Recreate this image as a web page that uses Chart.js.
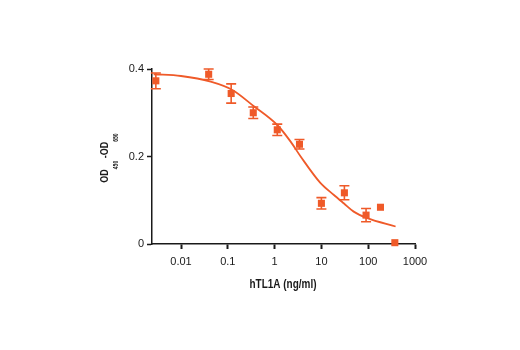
<!DOCTYPE html>
<html>
<head>
<meta charset="utf-8">
<script src="https://cdn.jsdelivr.net/npm/chart.js@4"></script>
<style>
  html, body { margin: 0; padding: 0; background: #fff; }
  #wrap { width: 520px; height: 350px; }
</style>
</head>
<body>
<div id="wrap"><canvas id="chart" width="520" height="350"></canvas></div>
<script>
// ------------------ DADOS ------------------
const doseValues = [0.0029, 0.039, 0.118, 0.35, 1.14, 3.4, 10, 31, 90, 183, 371];
const odValues   = [0.373, 0.388, 0.344, 0.300, 0.261, 0.228, 0.093, 0.117, 0.066, 0.084, 0.003];
const odErrors   = [0.018, 0.012, 0.022, 0.013, 0.013, 0.011, 0.013, 0.016, 0.015, 0, 0];

// fitted curve
const fitDose = [0.0026, 0.01, 0.043, 0.125, 0.36, 1.14, 2.2, 3.6, 9.6, 18.5, 30, 49, 96, 385];
const fitOd   = [0.388, 0.384, 0.371, 0.352, 0.315, 0.272, 0.234, 0.200, 0.139, 0.112, 0.093, 0.074, 0.059, 0.040];

const xTicks = [0.01, 0.1, 1, 10, 100, 1000];
const yTicks = [0, 0.2, 0.4];

const ORANGE = "#ef5a29";
const AXIS = "#1a1a1a";
const SANS = "'Liberation Sans', Arial, sans-serif";

// ------------------ PLUGIN: BARRAS DE ERRO ------------------
const errorBars = {
  id: "errorBars",
  afterDatasetsDraw(chart) {
    const { ctx, scales } = chart;
    const xs = scales.x, ys = scales.y;
    ctx.save();
    ctx.strokeStyle = ORANGE;
    ctx.lineWidth = 1.6;
    doseValues.forEach((d, i) => {
      const e = odErrors[i];
      if (!e) return;
      const px = xs.getPixelForValue(d);
      const top = ys.getPixelForValue(odValues[i] + e);
      const bot = ys.getPixelForValue(odValues[i] - e);
      ctx.beginPath();
      ctx.moveTo(px, top); ctx.lineTo(px, bot);
      ctx.moveTo(px - 5, top); ctx.lineTo(px + 5, top);
      ctx.moveTo(px - 5, bot); ctx.lineTo(px + 5, bot);
      ctx.stroke();
    });
    ctx.restore();
  }
};

// ------------------ PLUGIN: TÍTULOS DOS EIXOS (fonte condensada) ------------------
const axisTitles = {
  id: "axisTitles",
  afterDraw(chart) {
    const { ctx } = chart;
    ctx.save();
    ctx.fillStyle = AXIS;
    ctx.translate(283, 285);
    ctx.scale(0.83, 1);
    ctx.font = "bold 12px " + SANS;
    ctx.textAlign = "center";
    ctx.textBaseline = "middle";
    ctx.fillText("hTL1A (ng/ml)", 0, 0);
    ctx.restore();

    // y title with subscripts, rotated
    const parts = [["OD", false], ["450", true], [" -OD", false], ["650", true]];
    const big = "bold 11.5px " + SANS;
    const small = "bold 6.5px " + SANS;
    ctx.save();
    ctx.fillStyle = AXIS;
    let total = 0;
    parts.forEach(([t, sub]) => { ctx.font = sub ? small : big; total += ctx.measureText(t).width; });
    ctx.translate(108, 158);
    ctx.rotate(-Math.PI / 2);
    ctx.scale(0.78, 1);
    ctx.textAlign = "left";
    ctx.textBaseline = "alphabetic";
    let x = -total / 2;
    parts.forEach(([t, sub]) => {
      ctx.font = sub ? small : big;
      ctx.fillText(t, x, sub ? 10 : 0);
      x += ctx.measureText(t).width;
    });
    ctx.restore();
  }
};

new Chart(document.getElementById("chart"), {
  type: "scatter",
  data: {
    datasets: [
      {
        label: "fit",
        data: fitDose.map((d, i) => ({ x: d, y: fitOd[i] })),
        showLine: true,
        borderColor: ORANGE,
        borderWidth: 1.8,
        pointRadius: 0,
        cubicInterpolationMode: "monotone",
        fill: false
      },
      {
        label: "hTL1A",
        data: doseValues.map((d, i) => ({ x: d, y: odValues[i] })),
        pointStyle: "rect",
        pointRadius: 5,
        backgroundColor: ORANGE,
        borderColor: ORANGE,
        borderWidth: 0
      }
    ]
  },
  options: {
    responsive: false,
    animation: false,
    clip: false,
    layout: { padding: { left: 0, top: 69, right: 105, bottom: 0 } },
    plugins: { legend: { display: false }, tooltip: { enabled: false } },
    scales: {
      x: {
        type: "logarithmic",
        min: 0.0024,
        max: 1000,
        afterBuildTicks: s => { s.ticks = xTicks.map(v => ({ value: v })); },
        afterFit: s => { s.height = 106; },
        border: { color: AXIS, width: 1.5 },
        grid: { drawOnChartArea: false, tickLength: 5, tickWidth: 2, tickColor: AXIS },
        ticks: {
          color: AXIS,
          padding: 6,
          maxRotation: 0,
          autoSkip: false,
          font: { family: SANS, size: 11 },
          callback: v => String(v)
        }
      },
      y: {
        min: 0,
        max: 0.4,
        afterBuildTicks: s => { s.ticks = yTicks.map(v => ({ value: v })); },
        afterFit: s => { s.width = 152; },
        border: { color: AXIS, width: 1.5 },
        grid: { drawOnChartArea: false, tickLength: 5, tickWidth: 1.5, tickColor: AXIS },
        ticks: {
          color: AXIS,
          padding: 3,
          font: { family: SANS, size: 11 },
          callback: v => String(v)
        }
      }
    }
  },
  plugins: [errorBars, axisTitles]
});
</script>
</body>
</html>
